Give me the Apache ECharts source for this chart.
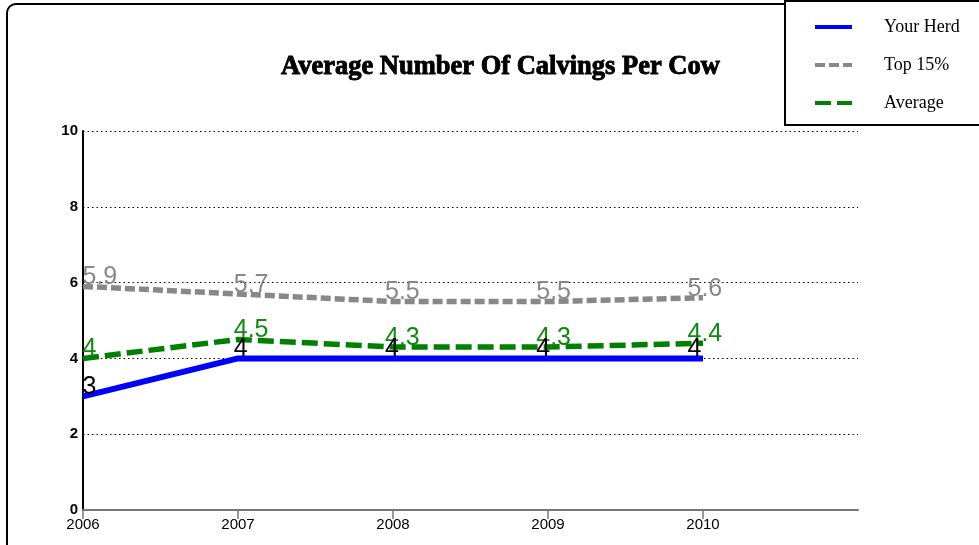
<!DOCTYPE html>
<html>
<head>
<meta charset="utf-8">
<script src="https://cdn.jsdelivr.net/npm/echarts@6/dist/echarts.min.js"></script>
<style>html,body{margin:0;padding:0;background:#fff;}#c{width:979px;height:545px;}</style>
</head>
<body>
<div id="c"></div>
<script>
const years = [2006, 2007, 2008, 2009, 2010];
const yourHerd = [3, 4, 4, 4, 4];
const top15 = [5.9, 5.7, 5.5, 5.5, 5.6];
const average = [4, 4.5, 4.3, 4.3, 4.4];
const yTicks = [0, 2, 4, 6, 8, 10];

const pairs = arr => years.map((y, i) => [y, arr[i]]);
const chart = echarts.init(document.getElementById('c'));
const SERIF = "'Liberation Serif', 'Times New Roman', serif";
const SANS = "'Liberation Sans', Arial, sans-serif";

function labelSeries(name, arr, color) {
  return {
    name: name + ' labels', type: 'line', xAxisIndex: 1, data: pairs(arr),
    symbol: 'circle', symbolSize: 1, showSymbol: true,
    lineStyle: { width: 0, color: 'transparent' }, itemStyle: { color: 'transparent', borderWidth: 0 },
    silent: true, z: 5,
    label: { show: true, position: 'right', distance: 0, offset: [-1, -9],
      color: color, fontFamily: SANS, fontSize: 25,
      formatter: p => String(p.value[1]) }
  };
}

chart.setOption({
  backgroundColor: '#fff',
  animation: false,
  title: {
    text: 'Average Number Of Calvings Per Cow', left: 276, top: 49,
    textStyle: { fontFamily: SERIF, fontWeight: 700, fontSize: 26.5, color: '#000',
      textBorderColor: '#000', textBorderWidth: 0.9 }
  },
  legend: {
    data: ['Your Herd', 'Top 15%', 'Average'],
    orient: 'vertical', left: 785, top: 1,
    padding: [17, 30, 13, 28],
    itemWidth: 37, itemHeight: 18, itemGap: 20,
    itemStyle: { opacity: 0 },
    lineStyle: { width: 4 },
    borderColor: '#000', borderWidth: 2, backgroundColor: '#fff',
    textStyle: { fontFamily: SERIF, fontSize: 18, color: '#000', padding: [0, 0, 0, 27] }
  },
  graphic: [{
    type: 'rect', z: -10, silent: true,
    shape: { x: 7, y: 4, width: 1000, height: 600, r: 9 },
    style: { fill: 'none', stroke: '#000', lineWidth: 2 }
  }],
  grid: { left: 83, right: 121, top: 131, bottom: 35 },
  xAxis: [{
    type: 'value', min: 2006, max: 2011, interval: 1,
    axisLine: { show: true, lineStyle: { color: '#777', width: 2 } },
    axisTick: { show: true, length: 9, customValues: years, lineStyle: { color: '#777', width: 1.5 } },
    axisLabel: { customValues: years, margin: 7, color: '#000', fontFamily: SANS, fontSize: 15,
      formatter: v => String(v) },
    splitLine: { show: false }
  }, {
    type: 'value', min: 2006, max: 2011.124, show: false
  }],
  yAxis: {
    type: 'value', min: 0, max: 10, interval: 2,
    axisLine: { show: true, lineStyle: { color: '#000', width: 2 } },
    axisTick: { show: false },
    axisLabel: { margin: 5, color: '#000', fontWeight: 'bold', fontFamily: SANS, fontSize: 15 },
    splitLine: { show: true, lineStyle: { color: '#000', width: 1, type: [1.5, 3] } }
  },
  series: [
    { name: 'Top 15%', type: 'line', data: pairs(top15), symbol: 'none', color: '#888888',
      lineStyle: { color: '#888888', width: 5.5, type: [10, 4] }, z: 3 },
    { name: 'Average', type: 'line', data: pairs(average), symbol: 'none', color: '#008000',
      lineStyle: { color: '#008000', width: 5.5, type: [16, 6] }, z: 3 },
    { name: 'Your Herd', type: 'line', data: pairs(yourHerd), symbol: 'none', color: '#0000ff',
      lineStyle: { color: '#0000ff', width: 6 }, z: 2 },
    labelSeries('Top 15%', top15, '#888888'),
    labelSeries('Average', average, '#118811'),
    labelSeries('Your Herd', yourHerd, '#000000')
  ]
});
</script>
</body>
</html>
